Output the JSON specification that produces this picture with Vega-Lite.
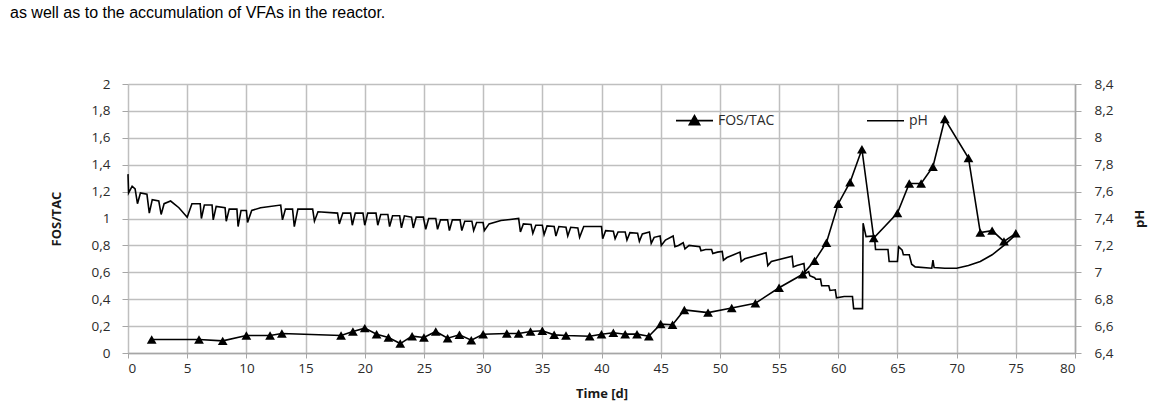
{
  "$schema": "https://vega.github.io/schema/vega-lite/v6.json",
  "width": 947,
  "height": 269,
  "autosize": "none",
  "padding": {"left": 128, "top": 84, "right": 88, "bottom": 48},
  "background": "white",
  "config": {"view": {"stroke": null}, "font": "Open Sans"},
  "title": {
    "text": "as well as to the accumulation of VFAs in the reactor.",
    "anchor": "start", "frame": "group", "orient": "top", "baseline": "alphabetic",
    "offset": 43, "dx": -118, "fontSize": 16, "font": "Liberation Sans", "fontWeight": "normal", "color": "black"
  },
  "datasets": {
    "fos": [
      {"day": 2, "FOS": 0.10}, {"day": 6, "FOS": 0.10}, {"day": 8, "FOS": 0.09}, {"day": 10, "FOS": 0.13},
      {"day": 12, "FOS": 0.13}, {"day": 13, "FOS": 0.145}, {"day": 18, "FOS": 0.13}, {"day": 19, "FOS": 0.16},
      {"day": 20, "FOS": 0.185}, {"day": 21, "FOS": 0.14}, {"day": 22, "FOS": 0.115}, {"day": 23, "FOS": 0.07},
      {"day": 24, "FOS": 0.125}, {"day": 25, "FOS": 0.115}, {"day": 26, "FOS": 0.16}, {"day": 27, "FOS": 0.11},
      {"day": 28, "FOS": 0.135}, {"day": 29, "FOS": 0.095}, {"day": 30, "FOS": 0.14}, {"day": 32, "FOS": 0.145},
      {"day": 33, "FOS": 0.145}, {"day": 34, "FOS": 0.16}, {"day": 35, "FOS": 0.165}, {"day": 36, "FOS": 0.135},
      {"day": 37, "FOS": 0.13}, {"day": 39, "FOS": 0.125}, {"day": 40, "FOS": 0.14}, {"day": 41, "FOS": 0.15},
      {"day": 42, "FOS": 0.14}, {"day": 43, "FOS": 0.14}, {"day": 44, "FOS": 0.125}, {"day": 45, "FOS": 0.215},
      {"day": 46, "FOS": 0.21}, {"day": 47, "FOS": 0.32}, {"day": 49, "FOS": 0.30}, {"day": 51, "FOS": 0.335},
      {"day": 53, "FOS": 0.37}, {"day": 55, "FOS": 0.485}, {"day": 57, "FOS": 0.585}, {"day": 58, "FOS": 0.685},
      {"day": 59, "FOS": 0.82}, {"day": 60, "FOS": 1.11}, {"day": 61, "FOS": 1.27}, {"day": 62, "FOS": 1.515},
      {"day": 63, "FOS": 0.855}, {"day": 65, "FOS": 1.04}, {"day": 66, "FOS": 1.26}, {"day": 67, "FOS": 1.26},
      {"day": 68, "FOS": 1.385}, {"day": 69, "FOS": 1.74}, {"day": 71, "FOS": 1.45}, {"day": 72, "FOS": 0.895},
      {"day": 73, "FOS": 0.91}, {"day": 74, "FOS": 0.83}, {"day": 75, "FOS": 0.89}
    ],
    "ph": [
      {"day": 0, "pH": 7.73}, {"day": 0.05, "pH": 7.59}, {"day": 0.35, "pH": 7.64}, {"day": 0.6, "pH": 7.62},
      {"day": 0.8, "pH": 7.51}, {"day": 1.05, "pH": 7.59}, {"day": 1.6, "pH": 7.58}, {"day": 1.8, "pH": 7.44},
      {"day": 2.05, "pH": 7.54}, {"day": 2.6, "pH": 7.53}, {"day": 2.8, "pH": 7.43}, {"day": 3.05, "pH": 7.51},
      {"day": 3.6, "pH": 7.53}, {"day": 4.3, "pH": 7.48}, {"day": 5.0, "pH": 7.41}, {"day": 5.4, "pH": 7.51},
      {"day": 6.1, "pH": 7.51}, {"day": 6.2, "pH": 7.40}, {"day": 6.45, "pH": 7.50}, {"day": 7.1, "pH": 7.50},
      {"day": 7.2, "pH": 7.39}, {"day": 7.45, "pH": 7.49}, {"day": 8.2, "pH": 7.48}, {"day": 8.3, "pH": 7.38},
      {"day": 8.55, "pH": 7.47}, {"day": 9.2, "pH": 7.47}, {"day": 9.3, "pH": 7.34}, {"day": 9.55, "pH": 7.46},
      {"day": 10.0, "pH": 7.46}, {"day": 10.1, "pH": 7.37}, {"day": 10.45, "pH": 7.46}, {"day": 11.2, "pH": 7.48},
      {"day": 12.9, "pH": 7.50}, {"day": 13.05, "pH": 7.39}, {"day": 13.3, "pH": 7.47}, {"day": 13.9, "pH": 7.47},
      {"day": 14.05, "pH": 7.34}, {"day": 14.35, "pH": 7.47}, {"day": 15.6, "pH": 7.47}, {"day": 15.75, "pH": 7.38},
      {"day": 16.05, "pH": 7.45}, {"day": 17.7, "pH": 7.44}, {"day": 17.85, "pH": 7.36}, {"day": 18.15, "pH": 7.44},
      {"day": 18.8, "pH": 7.44}, {"day": 18.95, "pH": 7.35}, {"day": 19.2, "pH": 7.44}, {"day": 19.85, "pH": 7.44},
      {"day": 20.0, "pH": 7.35}, {"day": 20.25, "pH": 7.44}, {"day": 20.95, "pH": 7.44}, {"day": 21.1, "pH": 7.35},
      {"day": 21.35, "pH": 7.43}, {"day": 21.95, "pH": 7.43}, {"day": 22.1, "pH": 7.34}, {"day": 22.35, "pH": 7.42},
      {"day": 22.95, "pH": 7.42}, {"day": 23.1, "pH": 7.33}, {"day": 23.35, "pH": 7.42}, {"day": 23.95, "pH": 7.41},
      {"day": 24.1, "pH": 7.33}, {"day": 24.35, "pH": 7.41}, {"day": 24.95, "pH": 7.41}, {"day": 25.15, "pH": 7.32},
      {"day": 25.4, "pH": 7.40}, {"day": 26.0, "pH": 7.40}, {"day": 26.15, "pH": 7.32}, {"day": 26.4, "pH": 7.39},
      {"day": 27.0, "pH": 7.39}, {"day": 27.15, "pH": 7.31}, {"day": 27.4, "pH": 7.39}, {"day": 28.05, "pH": 7.39},
      {"day": 28.2, "pH": 7.31}, {"day": 28.45, "pH": 7.38}, {"day": 29.05, "pH": 7.38}, {"day": 29.2, "pH": 7.31},
      {"day": 29.45, "pH": 7.37}, {"day": 30.0, "pH": 7.37}, {"day": 30.1, "pH": 7.31}, {"day": 30.5, "pH": 7.36},
      {"day": 31.5, "pH": 7.385}, {"day": 33.0, "pH": 7.40}, {"day": 33.15, "pH": 7.30}, {"day": 33.4, "pH": 7.36},
      {"day": 34.05, "pH": 7.355}, {"day": 34.2, "pH": 7.29}, {"day": 34.45, "pH": 7.35}, {"day": 35.0, "pH": 7.35},
      {"day": 35.15, "pH": 7.28}, {"day": 35.4, "pH": 7.345}, {"day": 36.0, "pH": 7.34}, {"day": 36.15, "pH": 7.27},
      {"day": 36.4, "pH": 7.34}, {"day": 37.0, "pH": 7.335}, {"day": 37.15, "pH": 7.27}, {"day": 37.4, "pH": 7.335},
      {"day": 38.0, "pH": 7.33}, {"day": 38.15, "pH": 7.26}, {"day": 38.5, "pH": 7.34}, {"day": 40.0, "pH": 7.34},
      {"day": 40.1, "pH": 7.25}, {"day": 40.35, "pH": 7.31}, {"day": 41.0, "pH": 7.305}, {"day": 41.15, "pH": 7.25},
      {"day": 41.4, "pH": 7.30}, {"day": 42.0, "pH": 7.30}, {"day": 42.15, "pH": 7.24}, {"day": 42.4, "pH": 7.295},
      {"day": 43.05, "pH": 7.29}, {"day": 43.2, "pH": 7.23}, {"day": 43.45, "pH": 7.285}, {"day": 44.05, "pH": 7.30},
      {"day": 44.2, "pH": 7.215}, {"day": 44.45, "pH": 7.26}, {"day": 44.95, "pH": 7.27}, {"day": 45.05, "pH": 7.20},
      {"day": 45.4, "pH": 7.24}, {"day": 46.05, "pH": 7.27}, {"day": 46.2, "pH": 7.19}, {"day": 46.5, "pH": 7.20},
      {"day": 46.9, "pH": 7.22}, {"day": 47.05, "pH": 7.175}, {"day": 47.4, "pH": 7.20}, {"day": 48.3, "pH": 7.19},
      {"day": 48.4, "pH": 7.16}, {"day": 48.8, "pH": 7.17}, {"day": 49.3, "pH": 7.17}, {"day": 49.4, "pH": 7.14},
      {"day": 49.8, "pH": 7.15}, {"day": 50.2, "pH": 7.155}, {"day": 50.3, "pH": 7.09}, {"day": 50.6, "pH": 7.11},
      {"day": 51.7, "pH": 7.15}, {"day": 51.8, "pH": 7.08}, {"day": 52.1, "pH": 7.10}, {"day": 53.9, "pH": 7.145},
      {"day": 54.05, "pH": 7.05}, {"day": 54.35, "pH": 7.08}, {"day": 56.1, "pH": 7.12}, {"day": 56.2, "pH": 7.04},
      {"day": 56.5, "pH": 7.05}, {"day": 57.1, "pH": 7.065}, {"day": 57.2, "pH": 6.99}, {"day": 57.5, "pH": 7.005},
      {"day": 57.6, "pH": 6.975}, {"day": 58.0, "pH": 6.96}, {"day": 58.1, "pH": 6.948}, {"day": 58.5, "pH": 6.95},
      {"day": 58.6, "pH": 6.90}, {"day": 59.2, "pH": 6.90}, {"day": 59.3, "pH": 6.865}, {"day": 59.75, "pH": 6.87},
      {"day": 59.85, "pH": 6.81}, {"day": 60.5, "pH": 6.82}, {"day": 61.2, "pH": 6.82}, {"day": 61.3, "pH": 6.73},
      {"day": 62.05, "pH": 6.73}, {"day": 62.1, "pH": 7.365}, {"day": 62.35, "pH": 7.265}, {"day": 63.05, "pH": 7.27},
      {"day": 63.15, "pH": 7.17}, {"day": 64.2, "pH": 7.17}, {"day": 64.3, "pH": 7.08}, {"day": 65.0, "pH": 7.08},
      {"day": 65.1, "pH": 7.19}, {"day": 65.4, "pH": 7.165}, {"day": 65.5, "pH": 7.13}, {"day": 66.0, "pH": 7.13},
      {"day": 66.2, "pH": 7.06}, {"day": 66.5, "pH": 7.04}, {"day": 67.9, "pH": 7.03}, {"day": 68.0, "pH": 7.09},
      {"day": 68.1, "pH": 7.035}, {"day": 69.0, "pH": 7.03}, {"day": 70.0, "pH": 7.03}, {"day": 71.0, "pH": 7.05},
      {"day": 72.0, "pH": 7.08}, {"day": 73.0, "pH": 7.13}, {"day": 74.0, "pH": 7.20}, {"day": 75.0, "pH": 7.28}
    ]
  },
  "encoding": {
    "x": {
      "field": "day", "type": "quantitative",
      "scale": {"domain": [0, 80], "nice": false},
      "axis": {
        "values": [0, 5, 10, 15, 20, 25, 30, 35, 40, 45, 50, 55, 60, 65, 70, 75, 80],
        "grid": true, "gridColor": "#bfbfbf", "gridWidth": 1.5,
        "domainColor": "#a6a6a6", "domainWidth": 1.5, "tickColor": "#a6a6a6", "tickSize": 5,
        "labelFont": "Open Sans", "labelFontSize": 13.5, "labelColor": "#2b2b2b", "labelPadding": 3,
        "title": "Time [d]", "titleFont": "Open Sans", "titleFontSize": 13, "titleFontWeight": "bold",
        "titleColor": "#1a1a1a", "titlePadding": 13
      }
    }
  },
  "layer": [
    {
      "data": {"name": "ph"},
      "mark": {"type": "line", "color": "black", "strokeWidth": 1.6},
      "encoding": {
        "y": {
          "field": "pH", "type": "quantitative",
          "scale": {"domain": [6.4, 8.4], "nice": false, "zero": false},
          "axis": {
            "orient": "right",
            "values": [6.4, 6.6, 6.8, 7, 7.2, 7.4, 7.6, 7.8, 8, 8.2, 8.4],
            "labelExpr": "replace(format(datum.value, '.1~f'), '.', ',')",
            "grid": false, "domainColor": "#a6a6a6", "domainWidth": 1.5, "tickColor": "#a6a6a6", "tickSize": 6,
            "labelFont": "Open Sans", "labelFontSize": 13.5, "labelColor": "#2b2b2b", "labelPadding": 13,
            "title": "pH", "titleFont": "Open Sans", "titleFontSize": 13, "titleFontWeight": "bold",
            "titleColor": "#1a1a1a", "titlePadding": 21, "titleAngle": -90, "titleBaseline": "top"
          }
        }
      }
    },
    {
      "data": {"name": "fos"},
      "encoding": {
        "y": {
          "field": "FOS", "type": "quantitative",
          "scale": {"domain": [0, 2], "nice": false},
          "axis": {
            "orient": "left",
            "values": [0, 0.2, 0.4, 0.6, 0.8, 1, 1.2, 1.4, 1.6, 1.8, 2],
            "labelExpr": "replace(format(datum.value, '.1~f'), '.', ',')",
            "grid": true, "gridColor": "#bfbfbf", "gridWidth": 1.5,
            "domain": false, "tickColor": "#a6a6a6", "tickSize": 6,
            "labelFont": "Open Sans", "labelFontSize": 13.5, "labelColor": "#2b2b2b", "labelPadding": 12,
            "title": "FOS/TAC", "titleFont": "Open Sans", "titleFontSize": 13, "titleFontWeight": "bold",
            "titleColor": "#1a1a1a", "titlePadding": 28
          }
        }
      },
      "layer": [
        {"mark": {"type": "line", "color": "black", "strokeWidth": 1.6}},
        {"mark": {"type": "point", "shape": "triangle-up", "filled": true, "color": "black", "size": 95, "opacity": 1}},
        {
          "mark": {"type": "point", "filled": false, "color": "black", "strokeWidth": 1.6, "opacity": 0},
          "encoding": {
            "shape": {
              "datum": "FOS/TAC", "type": "nominal",
              "scale": {"domain": ["FOS/TAC", "pH"], "range": ["M-1,0H1M-0.28,0.22L0,-0.27L0.28,0.22ZM-0.18,0.16L0,-0.15L0.18,0.16ZM-0.08,0.1L0,-0.03L0.08,0.1Z", "M-1,0H1"]},
              "legend": {
                "orient": "none", "legendX": 547, "legendY": 17, "direction": "horizontal", "title": null,
                "labelFont": "Open Sans", "labelFontSize": 14, "labelColor": "#2b2b2b", "labelOffset": 4,
                "symbolSize": 1369, "columnPadding": 88, "padding": 0,
                "symbolStrokeColor": "black", "symbolStrokeWidth": 1.6, "symbolOpacity": 1,
                "encode": {"symbols": {
                  "update": {"stroke": {"value": "black"}, "strokeWidth": {"value": 1.6}, "opacity": {"value": 1}, "strokeOpacity": {"value": 1}}
                }}
              }
            }
          }
        }
      ]
    }
  ],
  "resolve": {"scale": {"y": "independent"}}
}
